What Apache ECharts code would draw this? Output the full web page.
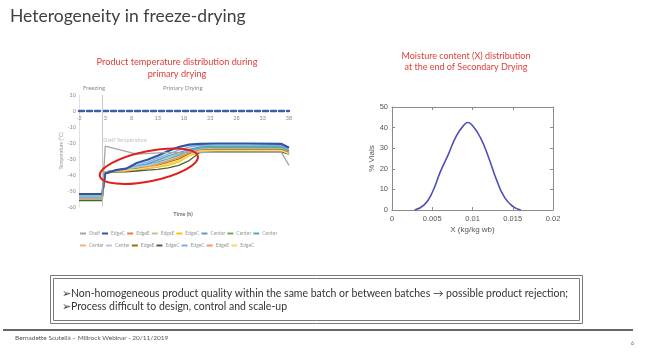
<!DOCTYPE html>
<html>
<head>
<meta charset="utf-8">
<script src="https://cdn.jsdelivr.net/npm/echarts@6/dist/echarts.min.js"></script>
<style>
  html, body { margin: 0; padding: 0; background: #fff; }
  #chart { width: 650px; height: 355px; }
</style>
</head>
<body>
<div id="chart"></div>
<script>
// Left chart: product temperature during freezing / primary drying
const timeTicks = { min: -2, max: 38, step: 5 }
const tempTicks = { min: -60, max: 10, step: 10 }
const productTime = [-2, 2.4, 3, 5, 7, 9, 11, 13, 15, 17, 19, 21, 24, 30, 36.5, 38]
const productNames = ['EdgeC', 'EdgeE', 'EdgeE', 'EdgeC', 'Center', 'Center', 'Center',
  'Center', 'Center', 'EdgeE', 'EdgeC', 'EdgeC', 'EdgeE', 'EdgeC']
const productColors = ['#2f55a5', '#ed7d31', '#a9d18e', '#ffc000', '#5b9bd5', '#70ad47', '#4bacc6',
  '#f4b183', '#b4c7e7', '#997300', '#43682b', '#7cafdd', '#f1975a', '#ffd966']
const productTemps = [
  [-52, -52, -39, -37, -36, -32.5, -30.5, -28, -25, -22.5, -21, -20.5, -20.3, -20.3, -20.5, -23],
  [-54, -54, -39, -38, -37, -36, -34, -32, -30, -28, -26, -24.5, -24, -24, -24, -27],
  [-53, -53, -38, -37, -36, -35, -33, -31, -29, -27, -25, -23.5, -23, -23, -23, -26],
  [-55, -55, -38, -37.5, -37, -36.5, -36, -35, -34, -32, -28, -25.5, -25, -25, -25, -27],
  [-54, -54, -38, -37, -36, -34.5, -33, -30.5, -28, -26, -24, -22.5, -22, -22, -22, -25],
  [-55, -55, -38.5, -38, -37.5, -36, -35, -33, -31, -29, -26, -23, -22.5, -22.5, -22.5, -25],
  [-54, -54, -38, -37.5, -36.5, -35, -33.5, -32, -30, -27.5, -25, -23, -22.8, -22.8, -22.8, -25],
  [-55, -55, -38.5, -38, -37.5, -37, -36, -35, -33, -31, -27, -25, -24.5, -24.5, -24.5, -27],
  [-54, -54, -38, -37, -36, -35, -34, -32.5, -30.5, -28.5, -25.5, -24, -23.5, -23.5, -23.5, -26],
  [-55, -55, -38.5, -38, -37.5, -36.5, -35.5, -34, -32, -30, -26.5, -24.5, -24, -24, -24, -26],
  [-56, -56, -38.5, -38, -38, -37.5, -37, -36.5, -35.5, -34, -31, -26, -25.5, -25.5, -25.5, -27],
  [-54, -54, -38, -37, -36, -34, -32, -29.5, -27, -24.5, -22.5, -21.5, -21.3, -21.3, -21.5, -24],
  [-55, -55, -38.5, -38, -37.5, -36.5, -35, -33.5, -31.5, -29, -26, -24.8, -24.5, -24.5, -24.5, -27],
  [-55, -55, -38, -37.5, -37, -36.5, -35.5, -34.5, -33, -31, -27.5, -25, -24.8, -24.8, -24.8, -26.5]
]
const shelfTime = [-2, 2.4, 3, 9, 14, 36.5, 38]
const shelfTemp = [-55, -55, -22, -27, -26, -25.5, -34]
const phaseSplit = 2.5
const ellipseCenter = [11.3, -34.5]

// Right chart: moisture content distribution
const moistureX = [0.0028, 0.004, 0.005, 0.006, 0.007, 0.008, 0.009, 0.0094, 0.010, 0.011, 0.012, 0.013, 0.014, 0.015, 0.016]
const vialsPct = [0, 2.5, 8.5, 18.5, 27, 36, 41.5, 42.5, 41, 35, 25.5, 14.5, 6, 1.8, 0]

const SLIDE_FONT = 'Lato, "Open Sans", sans-serif'
const PLOT_FONT = '"Liberation Sans", Arial, sans-serif'

const LEFT_GRID = { left: 79, top: 95, width: 210, height: 112 }
// the Excel time axis sits on the 0 °C line, so shift it up from the grid bottom
const zeroOffset = -LEFT_GRID.height * (0 - tempTicks.min) / (tempTicks.max - tempTicks.min)

const chart = echarts.init(document.getElementById('chart'))

// unique names for the legend (duplicated labels are kept apart with zero-width spaces)
const legendNames = ['Shelf'].concat(productNames).map((n, i) => n + '\u200b'.repeat(i))

const productSeries = productTemps.map((temps, i) => ({
  name: legendNames[i + 1],
  type: 'line',
  xAxisIndex: 0,
  yAxisIndex: 0,
  data: productTime.map((t, j) => [t, temps[j]]),
  showSymbol: false,
  lineStyle: { width: i === 0 ? 2.2 : 1.3, color: productColors[i] },
  itemStyle: { color: productColors[i] },
  z: i === 0 ? 5 : 3
}))

const legendCommon = {
  icon: 'rect',
  itemWidth: 6,
  itemHeight: 2,
  itemGap: 2,
  padding: 0,
  textStyle: { fontSize: 5, color: '#9a9a9a', fontFamily: SLIDE_FONT, padding: [0, 0, 0, -2] },
  formatter: n => n.replace(/\u200b/g, '')
}

const txt = (text, x, y, size, fill, extra) => Object.assign({
  type: 'text',
  x, y,
  silent: true,
  style: Object.assign({ text, fontSize: size, fontFamily: SLIDE_FONT, fill, align: 'left', verticalAlign: 'middle' }, extra || {})
})

const option = {
  animation: false,
  backgroundColor: '#fff',
  grid: [
    LEFT_GRID,
    { left: 392, top: 107, width: 161, height: 103 }
  ],
  legend: [
    Object.assign({ data: legendNames.slice(0, 8), left: 80, top: 231 }, legendCommon),
    Object.assign({ data: legendNames.slice(8), left: 80, top: 243 }, legendCommon)
  ],
  xAxis: [
    {
      gridIndex: 0, type: 'value',
      min: timeTicks.min, max: timeTicks.max, interval: timeTicks.step,
      offset: zeroOffset,
      axisLine: { onZero: false, lineStyle: { color: '#3d5fa8', width: 2.4, type: [5, 3] } },
      axisTick: { show: false },
      axisLabel: { fontSize: 5.5, color: '#8a8a8a', margin: 4, fontFamily: SLIDE_FONT },
      splitLine: { show: false }
    },
    {
      gridIndex: 1, type: 'value', min: 0, max: 0.02, interval: 0.005,
      axisLine: { onZero: false, lineStyle: { color: '#8c8c8c' } },
      axisTick: { inside: true, length: 3, lineStyle: { color: '#8c8c8c' } },
      axisLabel: { fontSize: 7.5, color: '#555', margin: 5, fontFamily: PLOT_FONT },
      splitLine: { show: false },
      name: 'X (kg/kg wb)', nameLocation: 'middle', nameGap: 16,
      nameTextStyle: { fontSize: 8, color: '#555', fontFamily: PLOT_FONT }
    },
    {
      gridIndex: 1, type: 'value', position: 'top', min: 0, max: 0.02, interval: 0.005,
      axisLine: { onZero: false, lineStyle: { color: '#8c8c8c' } },
      axisTick: { inside: true, length: 3, lineStyle: { color: '#8c8c8c' } },
      axisLabel: { show: false },
      splitLine: { show: false }
    }
  ],
  yAxis: [
    {
      gridIndex: 0, type: 'value', min: tempTicks.min, max: tempTicks.max, interval: tempTicks.step,
      axisLine: { show: true, onZero: false, lineStyle: { color: '#e2e2e2' } },
      axisTick: { show: false },
      axisLabel: { fontSize: 5.5, color: '#8a8a8a', margin: 3, fontFamily: SLIDE_FONT },
      splitLine: { show: false },
      name: 'Temperature (°C)', nameLocation: 'middle', nameGap: 11, nameRotate: 90,
      nameTextStyle: { fontSize: 5, color: '#9a9a9a', fontFamily: SLIDE_FONT }
    },
    {
      gridIndex: 1, type: 'value', min: 0, max: 50, interval: 10,
      axisLine: { onZero: false, lineStyle: { color: '#8c8c8c' } },
      axisTick: { inside: true, length: 3, lineStyle: { color: '#8c8c8c' } },
      axisLabel: { fontSize: 7.5, color: '#555', margin: 4, fontFamily: PLOT_FONT },
      splitLine: { show: false },
      name: '% Vials', nameLocation: 'middle', nameGap: 15, nameRotate: 90,
      nameTextStyle: { fontSize: 8, color: '#555', fontFamily: PLOT_FONT }
    },
    {
      gridIndex: 1, type: 'value', position: 'right', min: 0, max: 50, interval: 10,
      axisLine: { onZero: false, lineStyle: { color: '#8c8c8c' } },
      axisTick: { inside: true, length: 3, lineStyle: { color: '#8c8c8c' } },
      axisLabel: { show: false },
      splitLine: { show: false }
    }
  ],
  series: [
    {
      name: legendNames[0],
      type: 'line',
      xAxisIndex: 0, yAxisIndex: 0,
      data: shelfTime.map((t, j) => [t, shelfTemp[j]]),
      showSymbol: false,
      lineStyle: { width: 1.3, color: '#a5a5a5' },
      itemStyle: { color: '#a5a5a5' },
      z: 6,
      markLine: {
        silent: true, symbol: 'none', label: { show: false },
        lineStyle: { color: '#c8c8c8', width: 1, type: 'solid' },
        data: [{ xAxis: phaseSplit }]
      }
    },
    ...productSeries,
    {
      name: 'Moisture',
      type: 'line',
      xAxisIndex: 1, yAxisIndex: 1,
      data: moistureX.map((x, j) => [x, vialsPct[j]]),
      smooth: true,
      showSymbol: false,
      lineStyle: { width: 1.6, color: '#4f4fb8' }
    }
  ],
  graphic: [
    txt('Heterogeneity in freeze-drying', 10, 16, 17.5, '#404040'),
    txt('Product temperature distribution during', 177, 62, 9.2, '#e0403a', { align: 'center' }),
    txt('primary drying', 177, 74, 9.2, '#e0403a', { align: 'center' }),
    txt('Moisture content (X) distribution', 466, 56, 9, '#e0403a', { align: 'center' }),
    txt('at the end of Secondary Drying', 466, 67, 9, '#e0403a', { align: 'center' }),
    txt('Freezing', 83, 88, 6, '#8a8a8a'),
    txt('Primary Drying', 163, 88, 6, '#8a8a8a'),
    txt('Shelf Temperature', 103, 140, 5.5, '#c4c4c4'),
    txt('Time (h)', 183, 214, 5.5, '#777', { align: 'center', fontWeight: 'bold' }),
    {
      type: 'rect', silent: true,
      shape: { x: 50.5, y: 275.5, width: 532, height: 48 },
      style: { fill: 'none', stroke: '#7a7a7a', lineWidth: 1 }
    },
    {
      type: 'rect', silent: true,
      shape: { x: 53.5, y: 278.5, width: 526, height: 42 },
      style: { fill: 'none', stroke: '#7a7a7a', lineWidth: 1 }
    },
    txt('\u27A2Non-homogeneous product quality within the same batch or between batches \u2192 possible product rejection;', 62, 294, 10.5, '#333'),
    txt('\u27A2Process difficult to design, control and scale-up', 62, 307, 10.5, '#333'),
    {
      type: 'line', silent: true,
      shape: { x1: 3, y1: 330, x2: 633, y2: 330 },
      style: { stroke: '#333', lineWidth: 1.5 }
    },
    txt('Bernadette Scutellà – Millrock Webinar - 20/11/2019', 15, 338, 6.5, '#555'),
    txt('6', 631, 343, 5, '#555')
  ]
}

chart.setOption(option)

// red ellipse around the spread of product temperatures, anchored in data space
const c = chart.convertToPixel({ xAxisIndex: 0, yAxisIndex: 0 }, ellipseCenter)
chart.setOption({
  graphic: [{
    id: 'spread', type: 'ellipse', silent: true, z: 100,
    x: c[0], y: c[1], rotation: 0.2,
    shape: { cx: 0, cy: 0, rx: 50, ry: 15 },
    style: { fill: 'none', stroke: '#e0201c', lineWidth: 2 }
  }]
})

window.addEventListener('resize', () => chart.resize())
</script>
</body>
</html>
